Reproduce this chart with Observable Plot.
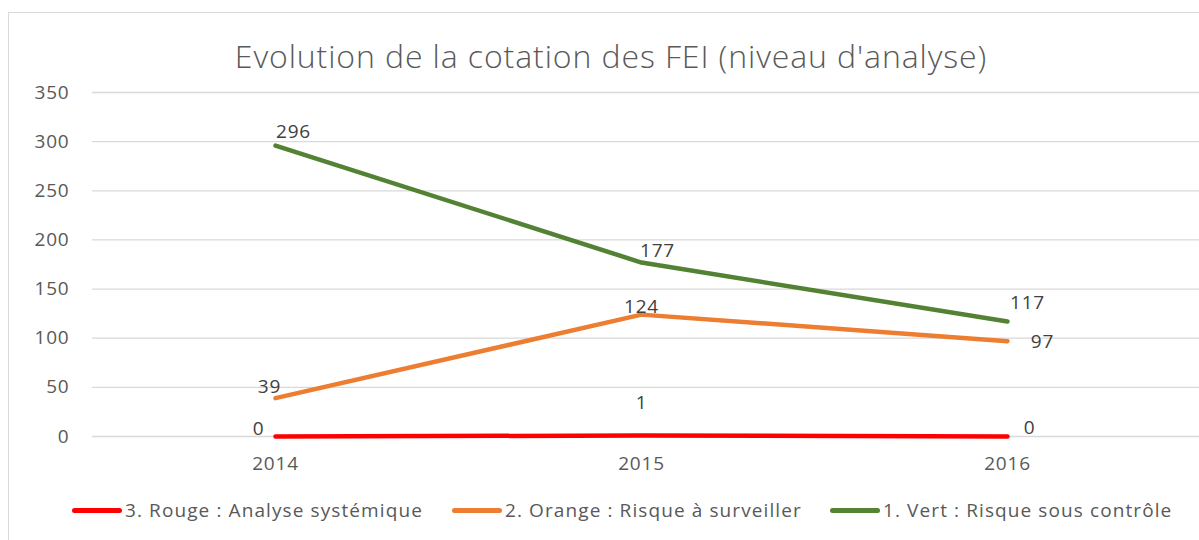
<!DOCTYPE html>
<html>
<head>
<meta charset="utf-8">
<script src="https://cdn.jsdelivr.net/npm/d3@7"></script>
<script src="https://cdn.jsdelivr.net/npm/@observablehq/plot@0.6"></script>
<style>
  html, body { margin: 0; padding: 0; background: #fff; }
  #wrap { position: relative; width: 1199px; height: 540px; overflow: hidden; font-family: "Open Sans", Lato, sans-serif; }
  #frame { position: absolute; left: 8px; top: 12px; width: 1300px; height: 600px; border: 1px solid #D9D9D9; box-sizing: border-box; }
  #title { position: absolute; left: 0; width: 1222px; top: 34px; text-align: center; font-size: 32px; font-weight: 300; color: #595959; line-height: 44px; letter-spacing: 0.9px; }
  #chart { position: absolute; left: 0; top: 0; }
  #legend { position: absolute; top: 497px; left: 0; width: 1199px; height: 26px; color: #595959; font-size: 19px; letter-spacing: 1.1px; }
  .item { position: absolute; display: flex; align-items: center; white-space: nowrap; }
  .sw { width: 50px; height: 5px; border-radius: 3px; margin-right: 3px; }
</style>
</head>
<body>
<div id="wrap">
  <div id="frame"></div>
  <div id="title">Evolution de la cotation des FEI (niveau d'analyse)</div>
  <div id="chart"></div>
  <div id="legend"></div>
</div>
<script>
const years = ["2014", "2015", "2016"];
const seriesNames = ["3. Rouge : Analyse systémique", "2. Orange : Risque à surveiller", "1. Vert : Risque sous contrôle"];
const rouge = [0, 1, 0];
const orange = [39, 124, 97];
const vert = [296, 177, 117];
const yTicks = [0, 50, 100, 150, 200, 250, 300, 350];
const colors = ["#FF0000", "#ED7D31", "#548235"];
// label offsets (pixels) for each series/point, style only
const labelOffsets = [
  [[-17, -8], [0, -33], [22, -9]],
  [[-6, -11], [0, -8], [35, 1]],
  [[18, -14], [16, -12], [20, -19]]
];

const seriesValues = [rouge, orange, vert];
const rows = [];
seriesValues.forEach((vals, si) => {
  vals.forEach((v, i) => rows.push({series: seriesNames[si], year: years[i], value: v, dx: labelOffsets[si][i][0], dy: labelOffsets[si][i][1]}));
});

const marks = [
  Plot.gridY(yTicks, {stroke: "#D9D9D9", strokeOpacity: 1, strokeWidth: 1.3}),
  Plot.axisY(yTicks, {tickSize: 0, tickPadding: 23, fontSize: 19, fill: "#595959", label: null}),
  Plot.axisX(years, {tickSize: 0, tickPadding: 20, fontSize: 19, fill: "#595959", label: null}),
];
seriesNames.forEach((name, si) => {
  marks.push(Plot.line(rows.filter(r => r.series === name), {x: "year", y: "value", stroke: colors[si], strokeWidth: 4.5, strokeLinecap: "round", strokeLinejoin: "round"}));
});
rows.forEach(r => {
  marks.push(Plot.text([r], {x: "year", y: "value", text: d => String(d.value), dx: r.dx, dy: r.dy, fontSize: 19, fill: "#404040"}));
});

const chart = Plot.plot({
  width: 1199,
  height: 540,
  marginTop: 92,
  marginBottom: 104,
  marginLeft: 92,
  marginRight: 0,
  style: {fontFamily: "'Open Sans', Lato, sans-serif", background: "transparent", overflow: "visible", letterSpacing: "0.8px"},
  x: {type: "point", domain: years, padding: 0.5, range: [92, 1190]},
  y: {domain: [0, 350]},
  marks
});
document.getElementById("chart").appendChild(chart);

const legend = document.getElementById("legend");
const legendX = [72, 452, 830];
seriesNames.forEach((name, si) => {
  const it = document.createElement("div");
  it.className = "item";
  it.style.left = legendX[si] + "px";
  it.innerHTML = `<span class="sw" style="background:${colors[si]}"></span><span>${name}</span>`;
  legend.appendChild(it);
});
</script>
</body>
</html>
